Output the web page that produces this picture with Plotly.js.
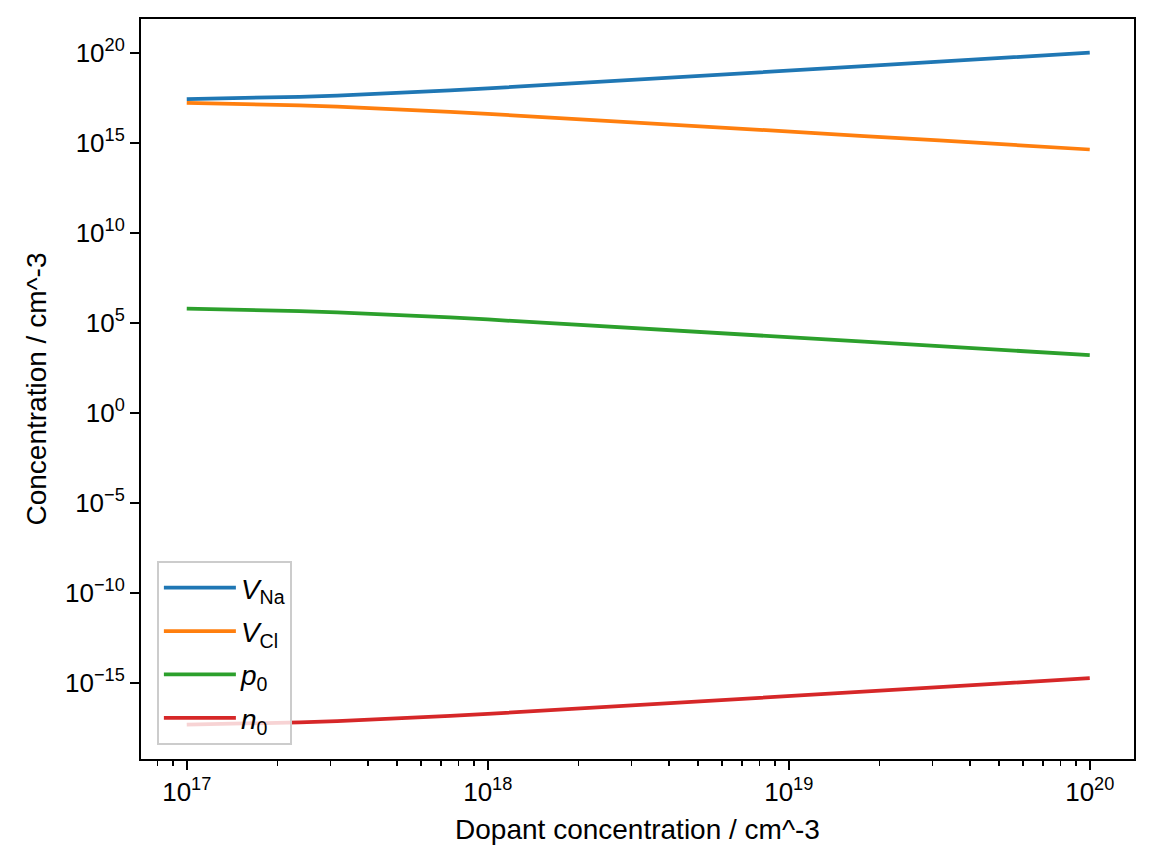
<!DOCTYPE html>
<html>
<head>
<meta charset="utf-8">
<script src="https://cdn.plot.ly/plotly-3.0.1.min.js"></script>
<style>html,body{margin:0;padding:0;background:#fff;}#plot{width:1154px;height:864px;}</style>
</head>
<body>
<div id="plot"></div>
<script>
// Dopant concentration (cm^-3)
var dopant = [1e17, 1.334e17, 1.78e17, 2.371e17, 3.16e17, 4.217e17, 5.62e17, 7.499e17, 1e18, 1.78e18, 3.16e18, 5.62e18, 1e19, 1.78e19, 3.16e19, 5.62e19, 1e20];
// Series
var vNa = [2.60e17, 2.815e17, 3.12e17, 3.547e17, 4.16e17, 5.043e17, 6.28e17, 8.019e17, 1.04e18, 1.80e18, 3.18e18, 5.63e18, 1.00e19, 1.78e19, 3.16e19, 5.62e19, 1.00e20];
var vCl = [1.60e17, 1.481e17, 1.34e17, 1.176e17, 1.00e17, 8.27e16, 6.64e16, 5.20e16, 4.01e16, 2.32e16, 1.31e16, 7.41e15, 4.17e15, 2.34e15, 1.32e15, 7.41e14, 4.17e14];
var p0  = [6.03e5, 5.57e5, 5.04e5, 4.42e5, 3.77e5, 3.11e5, 2.49e5, 1.95e5, 1.51e5, 8.71e4, 4.93e4, 2.79e4, 1.57e4, 8.81e3, 4.95e3, 2.79e3, 1.57e3];
var n0  = [4.62e-18, 5.01e-18, 5.55e-18, 6.31e-18, 7.40e-18, 8.97e-18, 1.12e-17, 1.43e-17, 1.85e-17, 3.21e-17, 5.65e-17, 1.00e-16, 1.78e-16, 3.16e-16, 5.62e-16, 1.00e-15, 1.78e-15];

// Tick labels
var yTickVals = [1e-15, 1e-10, 1e-5, 1, 1e5, 1e10, 1e15, 1e20];
var yTickText = ['10<sup>\u221215</sup>', '10<sup>\u221210</sup>', '10<sup>\u22125</sup>', '10<sup>0</sup>', '10<sup>5</sup>', '10<sup>10</sup>', '10<sup>15</sup>', '10<sup>20</sup>'];
var xTickVals = [1e17, 1e18, 1e19, 1e20];
var xTickText = ['10<sup>17</sup>', '10<sup>18</sup>', '10<sup>19</sup>', '10<sup>20</sup>'];

var names = ['<i>V</i><sub>Na</sub>', '<i>V</i><sub>Cl</sub>', '<i>p</i><sub>0</sub>', '<i>n</i><sub>0</sub>'];
var series = [vNa, vCl, p0, n0];
var colors = ['#1f77b4', '#ff7f0e', '#2ca02c', '#d62728'];

var traces = series.map(function (s, i) {
  return {
    x: dopant, y: s, type: 'scatter', mode: 'lines', name: names[i],
    legendgroup: 'g' + i,
    line: {color: colors[i], width: 3.75}
  };
});

var fam = '"Liberation Sans", Arial, Helvetica, sans-serif';
var tickFont = {family: fam, size: 26, color: '#000'};
var titleFont = {family: fam, size: 28, color: '#000'};

var layout = {
  width: 1154, height: 864,
  margin: {l: 141, r: 20, t: 19, b: 105},
  paper_bgcolor: '#fff', plot_bgcolor: '#fff',
  font: tickFont,
  showlegend: true,
  legend: {
    x: 0.016, y: 0.019, xanchor: 'left', yanchor: 'bottom',
    bgcolor: 'rgba(255,255,255,0.8)', bordercolor: '#cccccc', borderwidth: 2,
    font: {family: fam, size: 28, color: '#000'}, tracegroupgap: 4, traceorder: 'grouped',
    itemwidth: 72
  },
  xaxis: {
    type: 'log', range: [16.848, 20.147],
    showgrid: false, zeroline: false,
    showline: true, mirror: true, linecolor: '#000', linewidth: 2,
    ticks: 'outside', ticklen: 9, tickwidth: 2, tickcolor: '#000',
    tickvals: xTickVals, ticktext: xTickText,
    tickfont: tickFont,
    minor: {ticks: 'outside', ticklen: 5, tickwidth: 1.5, tickcolor: '#000', dtick: 'D1', showgrid: false},
    title: {text: 'Dopant concentration / cm^-3', font: titleFont, standoff: 13}
  },
  yaxis: {
    type: 'log', range: [-19.24, 21.87],
    showgrid: false, zeroline: false,
    showline: true, mirror: true, linecolor: '#000', linewidth: 2,
    ticks: 'outside', ticklen: 9, tickwidth: 2, tickcolor: '#000',
    tickvals: yTickVals, ticktext: yTickText,
    tickfont: tickFont,
    title: {text: 'Concentration / cm^-3', font: titleFont, standoff: 10}
  }
};

Plotly.newPlot('plot', traces, layout, {displayModeBar: false, staticPlot: true});
</script>
</body>
</html>
